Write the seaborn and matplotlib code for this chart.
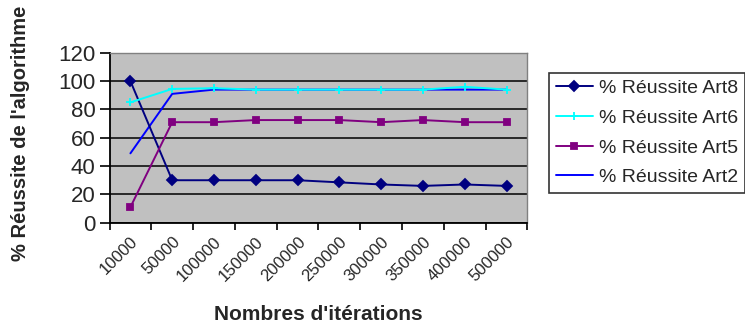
import matplotlib
matplotlib.use("Agg")
import matplotlib.pyplot as plt
import matplotlib.transforms as mtransforms
import seaborn as sns
import pandas as pd
import numpy as np

# Data
iterations = ["10000", "50000", "100000", "150000", "200000",
              "250000", "300000", "350000", "400000", "500000"]
art8 = [100, 30, 30, 30, 30, 28.5, 27, 26, 27, 26]
art6 = [85, 94.5, 95, 94, 94, 94, 94, 94, 96, 94]
art5 = [11, 71, 71, 72.5, 72.5, 72.5, 71, 72.5, 71, 71]
art2 = [49, 91, 94, 94, 94, 94, 94, 94, 94, 94]

series_names = ["% Réussite Art8", "% Réussite Art6", "% Réussite Art5", "% Réussite Art2"]
series_vals = [art8, art6, art5, art2]
colors = ["#000080", "#00ffff", "#800080", "#0000ff"]
markers = ["D", "+", "s", None]
msizes = [5, 6, 4, 0]

sns.set_style("white")
plt.rcParams["font.family"] = ["Liberation Sans", "DejaVu Sans"]

fig = plt.figure(figsize=(7.45, 3.28), dpi=100)
ax = fig.add_axes([0.147, 0.321, 0.561, 0.518])
ax.set_facecolor("#c0c0c0")

pos = np.arange(len(iterations))
# Art2 first so the cyan line sits on top of it
order = [3, 0, 2, 1]
for i in order:
    df = pd.DataFrame({"x": pos, "y": series_vals[i]})
    sns.lineplot(data=df, x="x", y="y", ax=ax, color=colors[i],
                 marker=markers[i], markersize=msizes[i],
                 markeredgecolor=colors[i], markeredgewidth=1.3,
                 linewidth=1.4, label=series_names[i])

ax.set_xlim(-0.5, len(iterations) - 0.5)
ax.set_ylim(0, 120)
ax.set_yticks(range(0, 121, 20))
ax.yaxis.grid(True, color="black", linewidth=1.1)
ax.set_axisbelow(True)

ax.set_xticks(pos)
ax.set_xticklabels(iterations, rotation=45, ha="right", va="top",
                   rotation_mode="anchor", fontsize=12)
shift = mtransforms.ScaledTranslation(-9 / 100, 0, fig.dpi_scale_trans)
for lab in ax.get_xticklabels():
    lab.set_transform(lab.get_transform() + shift)
ax.set_xticks(np.arange(-0.5, len(iterations)), minor=True)
ax.tick_params(axis="x", which="major", length=0, pad=8)
ax.tick_params(axis="x", which="minor", length=5, width=1.2, color="black",
               direction="out", bottom=True)
ax.tick_params(axis="y", length=7, width=1.2, color="black", direction="out",
               left=True, labelsize=16, pad=3)

for s in ["left", "bottom"]:
    ax.spines[s].set_color("black")
    ax.spines[s].set_linewidth(1.3)
for s in ["top", "right"]:
    ax.spines[s].set_color("#808080")
    ax.spines[s].set_linewidth(1)

ax.set_xlabel("")
ax.set_ylabel("")
fig.text(0.427, 0.04, "Nombres d'itérations", ha="center", va="center",
         fontsize=15, fontweight="bold")
fig.text(0.027, 0.595, "% Réussite de l'algorithme", rotation=90, ha="center",
         va="center", fontsize=14.5, fontweight="bold")

h, l = ax.get_legend_handles_labels()
lookup = dict(zip(l, h))
leg = ax.legend([lookup[n] for n in series_names], series_names,
                loc="upper left", bbox_to_anchor=(0.737, 0.778),
                bbox_transform=fig.transFigure, fontsize=14, frameon=True,
                fancybox=False, edgecolor="black", handlelength=1.9,
                handletextpad=0.3, borderpad=0.35, borderaxespad=0,
                labelspacing=0.62)
leg.get_frame().set_linewidth(1.2)

fig.savefig("out.png", dpi=100)
